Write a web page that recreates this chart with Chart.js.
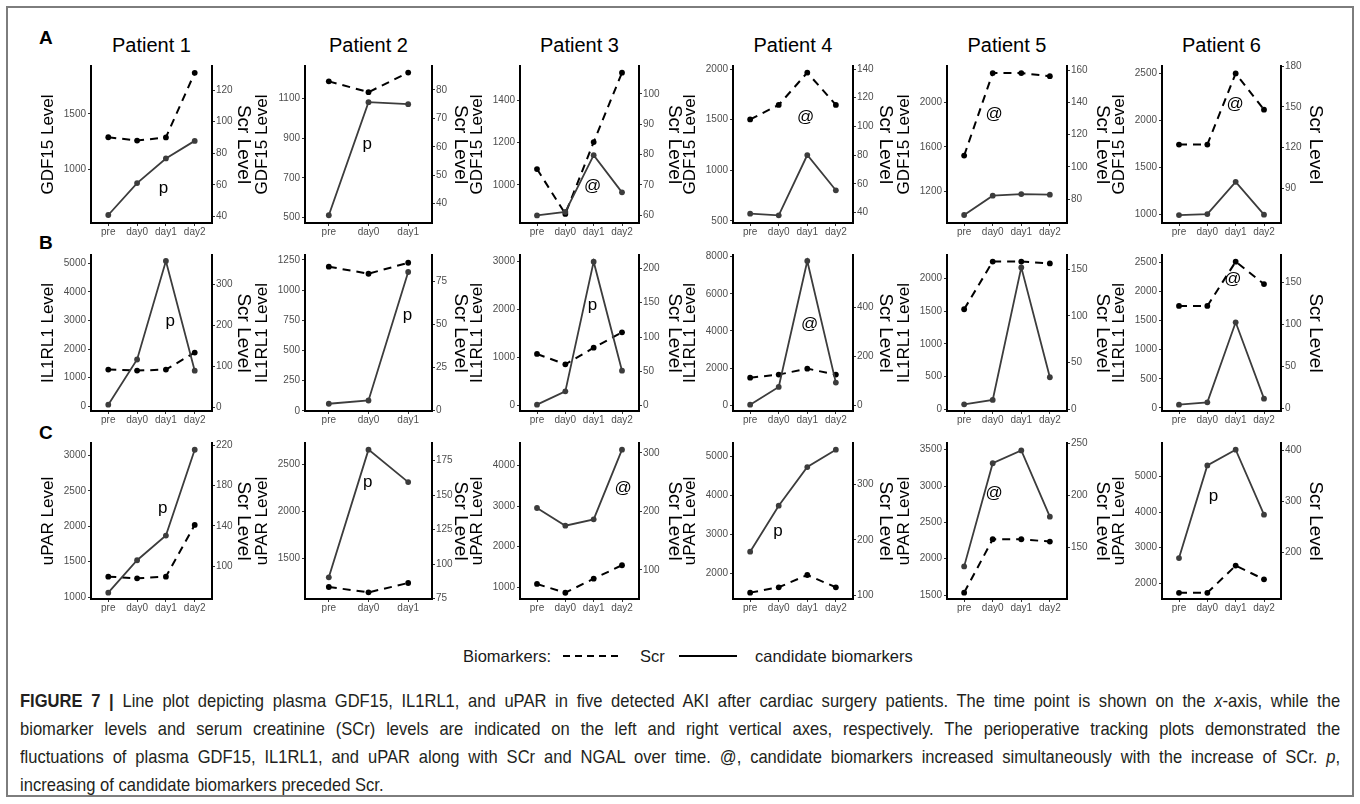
<!DOCTYPE html>
<html><head><meta charset="utf-8">
<script src="https://cdn.jsdelivr.net/npm/chart.js@4.4.1/dist/chart.umd.min.js"></script>
<style>
html,body{margin:0;padding:0;background:#fff;}
body{width:1360px;height:804px;position:relative;overflow:hidden;font-family:"Liberation Sans",Arial,sans-serif;color:#000;}
#frame{position:absolute;left:6px;top:6px;width:1348px;height:791px;border:2px solid #7d7d7d;box-sizing:border-box;}
canvas{position:absolute;}
.hdr{position:absolute;top:33px;font-size:20px;line-height:24px;transform:translateX(-50%);white-space:nowrap;}
.lbl{position:absolute;left:39px;font-size:19px;line-height:22px;font-weight:bold;}
.leg{position:absolute;top:645px;font-size:16.5px;line-height:22px;color:#1a1a1a;white-space:nowrap;}
#caption{position:absolute;left:20px;top:687px;width:1475px;font-size:18.5px;line-height:28px;color:#231f20;transform:scaleX(0.895);transform-origin:0 0;}
#caption div{text-align:justify;text-align-last:justify;}
#caption div.last{text-align:left;text-align-last:left;}
</style>
</head><body>
<div id="frame"></div>
<div class="lbl" style="top:27px">A</div>
<div class="lbl" style="top:232px">B</div>
<div class="lbl" style="top:422px">C</div>

<div class="leg" style="left:463px">Biomarkers:</div>
<svg style="position:absolute;left:560px;top:648px" width="200" height="16">
  <line x1="3" y1="8" x2="62" y2="8" stroke="#000" stroke-width="2" stroke-dasharray="7,5"/>
  <line x1="119" y1="8" x2="177" y2="8" stroke="#000" stroke-width="2"/>
</svg>
<div class="leg" style="left:640px">Scr</div>
<div class="leg" style="left:755px">candidate biomarkers</div>

<div id="caption">
<div><b>FIGURE 7 |</b> Line plot depicting plasma GDF15, IL1RL1, and uPAR in five detected AKI after cardiac surgery patients. The time point is shown on the <i>x</i>-axis, while the</div>
<div>biomarker levels and serum creatinine (SCr) levels are indicated on the left and right vertical axes, respectively. The perioperative tracking plots demonstrated the</div>
<div>fluctuations of plasma GDF15, IL1RL1, and uPAR along with SCr and NGAL over time. @, candidate biomarkers increased simultaneously with the increase of SCr. <i>p</i>,</div>
<div class="last">increasing of candidate biomarkers preceded Scr.</div>
</div>

<script>
// ---------- DATA ----------
const patients = ['Patient 1','Patient 2','Patient 3','Patient 4','Patient 5','Patient 6'];
const days4 = ['pre','day0','day1','day2'];
const days3 = ['pre','day0','day1'];
const patientDays = [days4, days3, days4, days4, days4, days4];
const markerTitles = ['GDF15 Level','IL1RL1 Level','uPAR Level'];
const scrTitle = 'Scr Level';
const rowLetters = ['A','B','C'];

// Row A: GDF15
const gdf15 = [[590,877,1099,1257],[512,1080,1070],[855,871,1140,964],[572,556,1151,803],[988,1161,1176,1170],[996,1007,1349,1000]];
const gdf15Scr = [[90.1,88,90,130.9],[83,79.2,86.1],[75.2,60.4,84.1,107],[104.9,115,137.5,115],[107,158.1,158.1,156.2],[122.2,122.2,174.8,148]];
const gdf15Min = [518,473,819,480,916,912];
const gdf15Max = [1931,1262,1562,2030,2325,2578];
const gdf15Ticks = [[1000,1500],[500,700,900,1100],[1000,1200,1400],[500,1000,1500,2000],[1200,1600,2000],[1000,1500,2000,2500]];
const gdf15ScrMin = [35.8,33.2,57.4,32.8,65.2,64.2];
const gdf15ScrMax = [135.2,88.4,109.2,142.1,162.5,180.3];
const gdf15ScrTicks = [[40,60,80,100,120],[40,50,60,70,80],[60,70,80,90,100],[40,60,80,100,120,140],[80,100,120,140,160],[90,120,150,180]];
const gdf15Anno = [['p',1.92,832],['p',0.97,867],['@',1.96,992],['@',1.94,1523],['@',1.05,1893],['@',1.98,2173]];

// Row B: IL1RL1
const il1rl1 = [[58,1638,5082,1245],[58,85,1150],[21,299,3000,729],[36,989,7766,1222],[77,143,2168,490],[57,97,1471,160]];
const il1rl1Scr = [[91.9,89.4,91.9,133.3],[83.7,79.6,86],[75.3,60.2,84.4,106.8],[113,125.6,150,125.6],[107,158,158,156],[122,122,174.6,148]];
const il1rl1Min = [-164,-2,-111,-306,-25.5,-52];
const il1rl1Max = [5292,1291,3139,8090,2357,2626];
const il1rl1Ticks = [[0,1000,2000,3000,4000,5000],[0,250,500,750,1000,1250],[0,1000,2000,3000],[0,2000,4000,6000,8000],[0,500,1000,1500,2000],[0,500,1000,1500,2000,2500]];
const il1rl1ScrMin = [-8.9,-0.2,-7.8,-23,-1.8,-2.8];
const il1rl1ScrMax = [370.7,90.5,219.5,614,165,182.5];
const il1rl1ScrTicks = [[0,100,200,300],[0,25,50,75],[0,50,100,150,200],[0,200,400],[0,50,100,150],[0,50,100,150]];
const il1rl1Anno = [['p',2.15,2977],['p',1.98,791],['p',1.96,2090],['@',2.08,4360],null,['@',1.9,2213]];

// Row C: uPAR
const upar = [[1061,1519,1868,3080],[1296,2661,2314],[2951,2515,2671,4386],[2554,3734,4726,5171],[1894,3313,3490,2578],[2709,5309,5750,3925]];
const uparScr = [[89.7,88,89.7,141],[83.5,79.6,86.4],[76,61,85,108],[105.4,115,137,115],[106.9,158,158,155.8],[121,121,174.4,147.5]];
const uparMin = [972,1064,712,1340,1445,1560];
const uparMax = [3175,2732,4550,5343,3592,5937];
const uparTicks = [[1000,1500,2000,2500,3000],[1500,2000,2500],[1000,2000,3000,4000],[2000,3000,4000,5000],[1500,2000,2500,3000,3500],[2000,3000,4000,5000]];
const uparScrMin = [67.5,74.8,50.3,94,100.8,108.9];
const uparScrMax = [222.3,187.8,317,373.7,250.2,415];
const uparScrTicks = [[100,140,180,220],[75,100,125,150,175],[100,200,300],[100,200,300],[150,200,250],[200,300,400]];
const uparAnno = [['p',1.89,2250],['p',0.98,2314],['@',3.04,3425],['p',0.975,3086],['@',1.05,2899],['p',1.22,4434]];

// ---------- LAYOUT ----------
const colLeft = [91,305,520,733,947,1162];
const colWidth = [121,127,119,120,120,119];
const rowTop = [66,255,443];
const rowH = [157,156,156];
const rightTitleOff = [31,28,35,32,35,34];
const W_Y = 60, W_Y1 = 50, PAD_T = 12, H_X = 25;
const FONT = '"Liberation Sans", Arial, sans-serif';
const RT_SIZE = 19;

const rows = [
  {bio:gdf15, scr:gdf15Scr, yMin:gdf15Min, yMax:gdf15Max, yTicks:gdf15Ticks, sMin:gdf15ScrMin, sMax:gdf15ScrMax, sTicks:gdf15ScrTicks, anno:gdf15Anno},
  {bio:il1rl1, scr:il1rl1Scr, yMin:il1rl1Min, yMax:il1rl1Max, yTicks:il1rl1Ticks, sMin:il1rl1ScrMin, sMax:il1rl1ScrMax, sTicks:il1rl1ScrTicks, anno:il1rl1Anno},
  {bio:upar, scr:uparScr, yMin:uparMin, yMax:uparMax, yTicks:uparTicks, sMin:uparScrMin, sMax:uparScrMax, sTicks:uparScrTicks, anno:uparAnno}
];

// headers
patients.forEach((p,c)=>{
  const d=document.createElement('div'); d.className='hdr'; d.textContent=p;
  d.style.left=(colLeft[c]+colWidth[c]/2)+'px'; document.body.appendChild(d);
});

const annoPlugin = {
  id:'anno',
  afterDatasetsDraw(chart){
    const a = chart.config._annoItem;
    if(!a) return;
    const ctx = chart.ctx;
    const x = chart.scales.x.getPixelForValue(a[1]);
    const y = chart.scales.y.getPixelForValue(a[2]);
    ctx.save();
    ctx.font = '17px ' + FONT;
    ctx.fillStyle = '#000';
    ctx.textAlign = 'center';
    ctx.textBaseline = 'middle';
    ctx.fillText(a[0], x, y);
    ctx.restore();
  }
};

const tickFont = {family:FONT, size:10};
const titleFont = {family:FONT, size:17};
const rTitleFont = {family:FONT, size:RT_SIZE};

rows.forEach((row,r)=>{
  for(let c=0;c<6;c++){
    const cats = patientDays[c];
    const L = colLeft[c], W = colWidth[c], T = rowTop[r], H = rowH[r];
    const cw = W_Y + W + W_Y1, ch = PAD_T + H + H_X;
    const cv = document.createElement('canvas');
    cv.width = cw; cv.height = ch;
    cv.style.left = (L - W_Y)+'px'; cv.style.top = (T - PAD_T)+'px';
    cv.style.width = cw+'px'; cv.style.height = ch+'px';
    document.body.appendChild(cv);
    const yT = row.yTicks[c], sT = row.sTicks[c];
    const cfg = {
      type:'line',
      data:{datasets:[
        {label:'candidate biomarkers', yAxisID:'y',
         data: row.bio[c].map((v,i)=>({x:i,y:v})),
         borderColor:'#3c3c3c', borderWidth:1.8, pointRadius:2.9, pointBackgroundColor:'#3c3c3c', pointBorderWidth:0, tension:0},
        {label:'Scr', yAxisID:'y1',
         data: row.scr[c].map((v,i)=>({x:i,y:v})),
         borderColor:'#000', borderWidth:2, borderDash:[8,6], pointRadius:2.9, pointBackgroundColor:'#000', pointBorderWidth:0, tension:0}
      ]},
      options:{
        responsive:false, animation:false, devicePixelRatio:1,
        layout:{padding:{top:PAD_T,left:0,right:0,bottom:0}},
        plugins:{legend:{display:false}, tooltip:{enabled:false}},
        scales:{
          x:{type:'linear', min:-0.6, max:cats.length-0.4,
             afterBuildTicks:(s)=>{ s.ticks = cats.map((_,i)=>({value:i})); },
             afterFit:(s)=>{ s.height = H_X; },
             ticks:{callback:(v)=>cats[v], font:tickFont, color:'#4d4d4d', padding:0, maxRotation:0, autoSkip:false},
             grid:{drawOnChartArea:false, tickLength:3, color:'#333', lineWidth:1},
             border:{display:true, color:'#000', width:2}},
          y:{type:'linear', position:'left', min:row.yMin[c], max:row.yMax[c],
             afterBuildTicks:(s)=>{ s.ticks = yT.map(v=>({value:v})); },
             afterFit:(s)=>{ s.width = W_Y; },
             ticks:{callback:(v)=>String(v), font:tickFont, color:'#4d4d4d', padding:2, autoSkip:false},
             grid:{drawOnChartArea:false, tickLength:3, color:'#333', lineWidth:1},
             border:{display:true, color:'#000', width:2},
             title:{display:true, text:markerTitles[r], color:'#000', font:titleFont, padding:{top:6.8,bottom:0}}},
          y1:{type:'linear', position:'right', min:row.sMin[c], max:row.sMax[c],
             afterBuildTicks:(s)=>{ s.ticks = sT.map(v=>({value:v})); },
             afterFit:(s)=>{ s.width = W_Y1; },
             ticks:{callback:(v)=>String(v), font:tickFont, color:'#4d4d4d', padding:1, autoSkip:false},
             grid:{drawOnChartArea:false, tickLength:3, color:'#333', lineWidth:1},
             border:{display:true, color:'#000', width:2},
             title:{display:true, text:scrTitle, color:'#000', font:rTitleFont, padding:{top:W_Y1 - RT_SIZE*0.6 - rightTitleOff[c], bottom:0}}}
        }
      },
      plugins:[annoPlugin]
    };
    const chart = new Chart(cv, cfg);
    chart.config._annoItem = row.anno[c];
    chart.draw();
  }
});
</script>
</body></html>
